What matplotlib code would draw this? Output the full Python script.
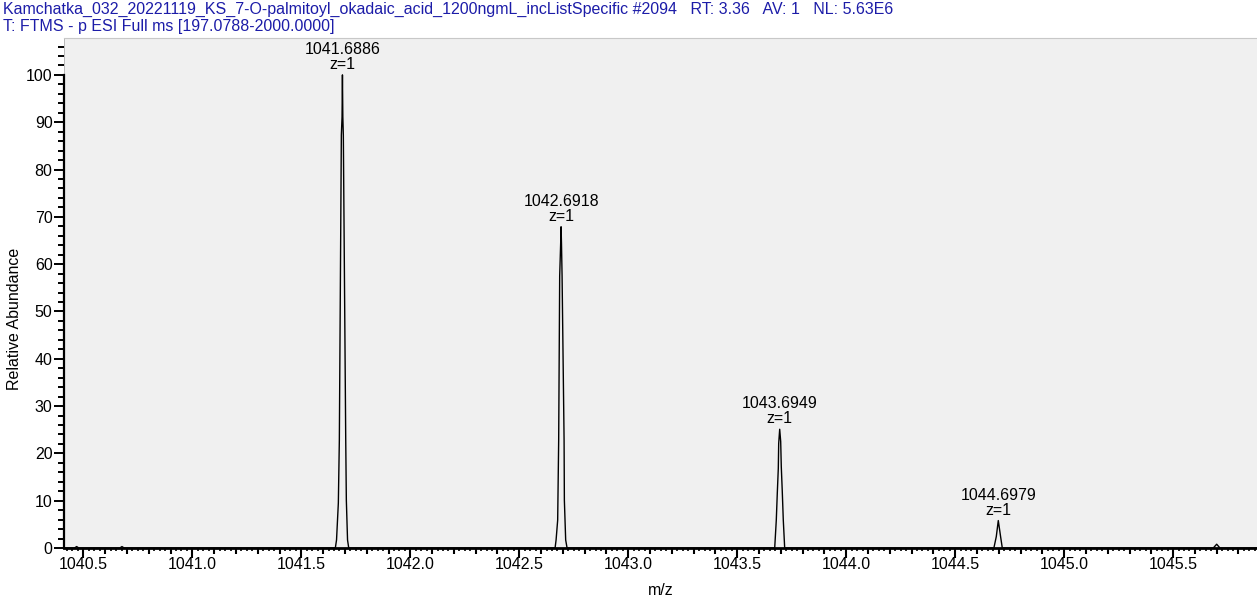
import matplotlib.pyplot as plt
from matplotlib.ticker import MultipleLocator, FuncFormatter

plt.rcParams['font.family'] = ['Liberation Sans', 'DejaVu Sans']

title1 = 'Kamchatka_032_20221119_KS_7-O-palmitoyl_okadaic_acid_1200ngmL_incListSpecific #2094   RT: 3.36   AV: 1   NL: 5.63E6'
title2 = 'T: FTMS - p ESI Full ms [197.0788-2000.0000]'

# profile spectrum
mz = [1040.411, 1040.459, 1040.469, 1040.479, 1040.667, 1040.677, 1040.687,
      1041.6560, 1041.6615, 1041.6698, 1041.6744, 1041.6836, 1041.6868, 1041.6886,
      1041.6904, 1041.6927, 1041.7037, 1041.7065, 1041.7120, 1041.7175,
      1042.6643, 1042.6689, 1042.6762, 1042.6808, 1042.6854, 1042.6900, 1042.6918,
      1042.6936, 1042.6964, 1042.7056, 1042.7069, 1042.7129, 1042.7193,
      1043.6720, 1043.6793, 1043.6839, 1043.6885, 1043.6903, 1043.6949,
      1043.6995, 1043.7022, 1043.7068, 1043.7114, 1043.7178,
      1044.6777, 1044.6887, 1044.6979, 1044.7085, 1044.7163,
      1045.6844, 1045.7000, 1045.7150, 1045.885]
intensity = [0, 0, 0.3, 0, 0, 0.3, 0,
             0, 1.7, 9.5, 22.8, 87.3, 91.1, 100,
             91.1, 87.3, 22.8, 10.1, 1.7, 0,
             0, 1.7, 5.9, 22.8, 57.5, 64.5, 67.9,
             64.5, 57.5, 22.8, 10.1, 1.7, 0,
             0, 5.9, 11.6, 16.8, 22.1, 25.1,
             22.5, 17.2, 11.9, 5.9, 0,
             0, 2.4, 5.8, 2.4, 0,
             0, 0.8, 0, 0]

peak_mz = [1041.6886, 1042.6918, 1043.6949, 1044.6979]
peak_int = [100, 67.9, 25.1, 5.8]
peak_z = [1, 1, 1, 1]

fig = plt.figure(figsize=(12.57, 6.05), dpi=100)
ax = fig.add_axes([64/1257, 1 - 548/605, 1193/1257, 510/605])
ax.set_facecolor('#f0f0f0')

ax.plot(mz, intensity, color='black', lw=1.0)

for m, h, z in zip(peak_mz, peak_int, peak_z):
    ax.annotate('%.4f\nz=%d' % (m, z), (m, h), xytext=(0, 2), textcoords='offset points',
                ha='center', va='bottom', fontsize=11.5, linespacing=1.0)

ax.set_xlim(1040.411, 1045.885)
ax.set_ylim(0, 107.8)

ax.xaxis.set_major_locator(MultipleLocator(0.1))
ax.xaxis.set_minor_locator(MultipleLocator(0.025))
ax.xaxis.set_major_formatter(FuncFormatter(
    lambda v, p: '%.1f' % v if abs(v * 2 - round(v * 2)) < 1e-6 else ''))
ax.yaxis.set_major_locator(MultipleLocator(10))
ax.yaxis.set_minor_locator(MultipleLocator(2))

ax.tick_params(axis='x', which='major', direction='out', length=4.5, width=1.5, labelsize=11.5, pad=2)
ax.tick_params(axis='x', which='minor', direction='out', length=2.2, width=1.2)
ax.tick_params(axis='y', which='major', direction='out', length=7.2, width=1.4, labelsize=11.5, pad=1)
ax.tick_params(axis='y', which='minor', direction='out', length=4.3, width=1.4)

# the 0.5 ticks are longer than the 0.1 ones
locs = ax.xaxis.get_majorticklocs()
for loc, t in zip(locs, ax.xaxis.get_major_ticks(len(locs))):
    if abs(loc * 2 - round(loc * 2)) < 1e-6:
        t.tick1line.set_markersize(7.5)

ax.spines['right'].set_visible(False)
ax.spines['top'].set_color('#c8c8c8')
ax.spines['top'].set_linewidth(0.8)
ax.spines['left'].set_bounds(0, 100)
ax.spines['left'].set_linewidth(1.6)
ax.spines['bottom'].set_linewidth(2.0)
ax.axvline(1040.411, color='#b0b0b0', lw=1.2)

ax.set_xlabel('m/z', fontsize=11.5)
ax.xaxis.set_label_coords(0.5, -0.068)
ax.set_ylabel('Relative Abundance', fontsize=11.5)
ax.yaxis.set_label_coords(-0.035, 0.45)

fig.text(3/1257, 1 - 2/605, title1, color='#1c1ca8', fontsize=11.5, va='top', ha='left')
fig.text(3/1257, 1 - 19/605, title2, color='#1c1ca8', fontsize=11.5, va='top', ha='left')

fig.savefig('out.png', dpi=100)
